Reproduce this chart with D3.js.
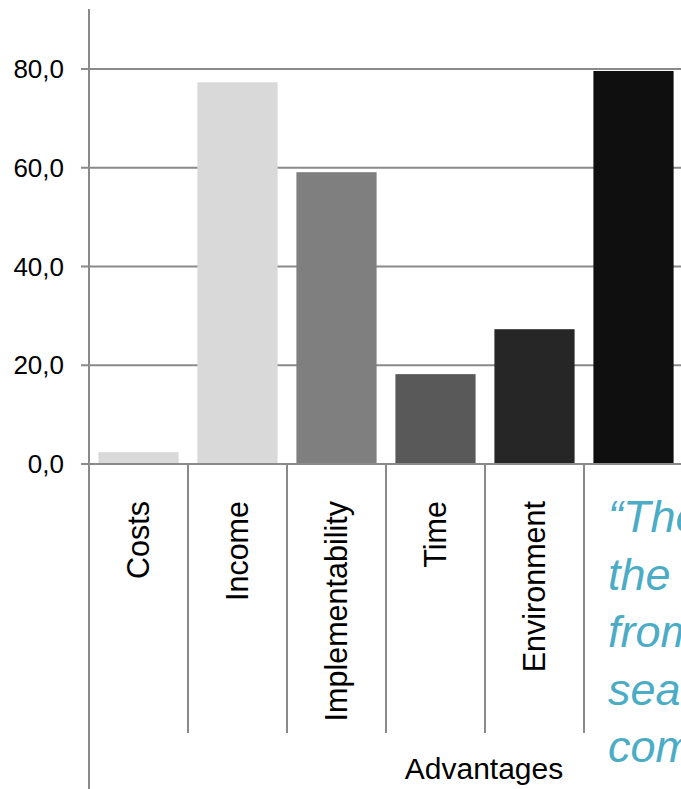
<!DOCTYPE html>
<html>
<head>
<meta charset="utf-8">
<script src="https://cdn.jsdelivr.net/npm/d3@7"></script>
<style>
  body { margin: 0; background: #fff; overflow: hidden; }
  svg { display: block; font-family: "Liberation Sans", Arial, sans-serif; }
</style>
</head>
<body>
<svg id="chart"></svg>
<script>
var categories = ["Costs", "Income", "Implementability", "Time", "Environment", ""];
var values = [2.4, 77.3, 59.1, 18.2, 27.3, 79.6];
var barColors = ["#d9d9d9", "#d9d9d9", "#7f7f7f", "#595959", "#262626", "#0f0f0f"];
var yTicks = [0, 20, 40, 60, 80];
var axisTitle = "Advantages";
var quoteLines = ["\u201CThe", "the", "from", "sea", "com"];

var svg = d3.select("#chart").attr("width", 681).attr("height", 789);

var x0 = 89, y0 = 464;
var gridColor = "#8a8a8a";

var xScale = d3.scaleBand()
	.domain(d3.range(categories.length))
	.range([x0, x0 + 99 * categories.length])
	.paddingInner(0.19)
	.paddingOuter(0.095);

var yScale = d3.scaleLinear()
	.domain([0, 80])
	.range([y0, 69]);

var step = xScale.step();

// gridlines + y labels
var grid = svg.append("g").attr("class", "grid");
grid.selectAll("line")
	.data(yTicks)
	.enter()
	.append("line")
		.attr("x1", x0 - 8)
		.attr("x2", 681)
		.attr("y1", function(d){ return yScale(d); })
		.attr("y2", function(d){ return yScale(d); })
		.attr("stroke", gridColor)
		.attr("stroke-width", 2);

grid.selectAll("text")
	.data(yTicks)
	.enter()
	.append("text")
		.attr("x", 64)
		.attr("y", function(d){ return yScale(d); })
		.attr("dy", "0.35em")
		.attr("text-anchor", "end")
		.attr("font-size", 26)
		.attr("fill", "#000")
		.text(function(d){ return d3.format(".1f")(d).replace(".", ","); });

// bars
svg.append("g").attr("id", "bars")
	.selectAll("rect")
	.data(values)
	.enter()
	.append("rect")
		.attr("x", function(d, i){ return xScale(i); })
		.attr("y", function(d){ return yScale(d); })
		.attr("width", xScale.bandwidth())
		.attr("height", function(d){ return y0 - yScale(d); })
		.attr("fill", function(d, i){ return barColors[i]; });

// baseline redraw over bars
svg.append("line")
	.attr("x1", x0 - 8).attr("x2", 681)
	.attr("y1", y0).attr("y2", y0)
	.attr("stroke", gridColor)
	.attr("stroke-width", 2);

// category dividers
svg.append("g").attr("class", "dividers")
	.selectAll("line")
	.data(d3.range(1, categories.length))
	.enter()
	.append("line")
		.attr("x1", function(d){ return xScale(d) - step * 0.095; })
		.attr("x2", function(d){ return xScale(d) - step * 0.095; })
		.attr("y1", y0)
		.attr("y2", 733)
		.attr("stroke", gridColor)
		.attr("stroke-width", 2);

// y axis line
svg.append("line")
	.attr("x1", x0).attr("x2", x0)
	.attr("y1", 9).attr("y2", 789)
	.attr("stroke", gridColor)
	.attr("stroke-width", 2);

// category labels
svg.append("g").attr("class", "catLabels")
	.selectAll("text")
	.data(categories)
	.enter()
	.append("text")
		.attr("transform", function(d, i){
			return "translate(" + (xScale(i) + xScale.bandwidth() / 2) + ",501) rotate(-90)";
		})
		.attr("dy", "0.35em")
		.attr("text-anchor", "end")
		.attr("font-size", 30.5)
		.attr("fill", "#000")
		.text(function(d){ return d; });

svg.append("text")
	.attr("x", 484)
	.attr("y", 779)
	.attr("text-anchor", "middle")
	.attr("font-size", 30)
	.attr("fill", "#000")
	.text(axisTitle);

// overlaid quote, cut off by the page edge as in the source
svg.append("g").attr("class", "quote")
	.selectAll("text")
	.data(quoteLines)
	.enter()
	.append("text")
		.attr("x", 608)
		.attr("y", function(d, i){ return 532 + i * 57.5; })
		.attr("font-size", 45)
		.attr("font-style", "italic")
		.attr("fill", "#4bacc6")
		.text(function(d){ return d; });
</script>
</body>
</html>
